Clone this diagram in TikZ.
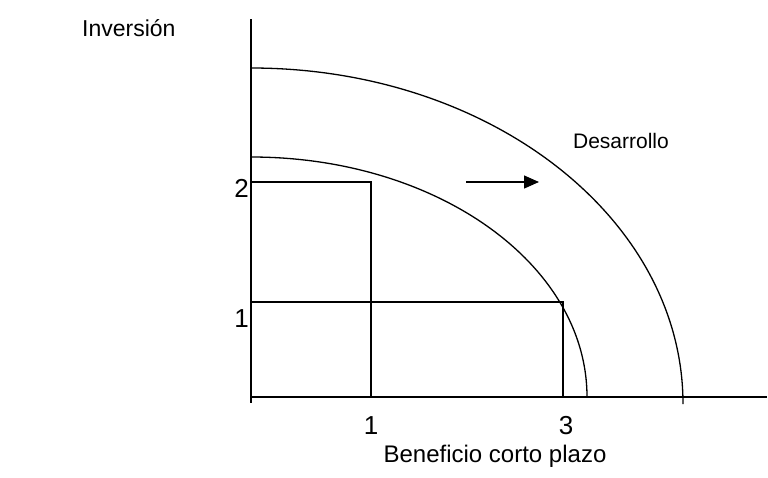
\documentclass[tikz,border=0pt]{standalone}
\usepackage{fontspec}
\setmainfont{Liberation Sans}
\usetikzlibrary{arrows.meta}
\begin{document}
\begin{tikzpicture}[x=1pt,y=-1pt,
  ln/.style={line width=1.3pt,black},
  big/.style={font=\fontsize{24}{26}\selectfont,inner sep=0pt},
  digit/.style={font=\fontsize{26}{28}\selectfont,inner sep=0pt},
  mid/.style={font=\fontsize{23}{25}\selectfont,inner sep=0pt},
  small/.style={font=\fontsize{21}{23}\selectfont,inner sep=0pt}]
\useasboundingbox (0,0) rectangle (768,477);
% axes
\coordinate (o) at (251,397);
\coordinate (ytop) at (251,19);
\coordinate (ybot) at (251,403);
\coordinate (xend) at (767,397);
\draw[ln] (ytop) -- (ybot);
\draw[ln] (o) -- (xend);
% rectangles
\draw[ln] (o) rectangle (371,182);
\draw[ln] (o) rectangle (563,302);
% curves
\draw[ln] (251,157) .. controls (437,157) and (587,264.4) .. (587,397);
\draw[ln] (251,68) .. controls (490,68) and (683,218.4) .. (683,404);
% arrow
\coordinate (a1) at (466,182);
\coordinate (a2) at (539,182);
\draw[ln,-{Triangle[length=15pt,width=13pt]}] (a1) -- (a2);
% labels
\node[mid,anchor=west] (inv) at (82,28) {Inversión};
\node[small] (des) at (621,141) {Desarrollo};
\node[digit,anchor=east] (l2) at (249,188) {2};
\node[digit,anchor=east] (l1) at (249,319) {1};
\node[digit] (b1) at (371,426) {1};
\node[digit] (b3) at (566,426) {3};
\node[big] (bcp) at (495,456) {Beneficio corto plazo};
\end{tikzpicture}
\end{document}
